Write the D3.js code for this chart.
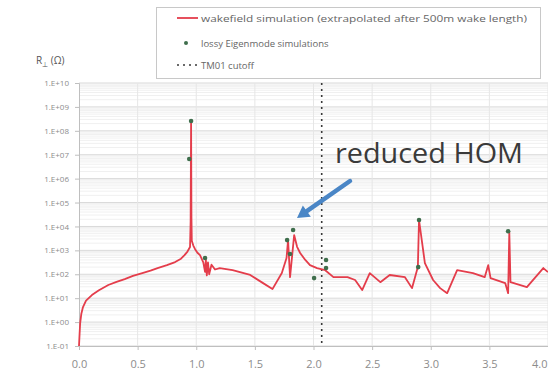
<!DOCTYPE html>
<html><head><meta charset="utf-8">
<script src="https://cdn.jsdelivr.net/npm/d3@7"></script>
<style>
body{margin:0;background:#fff;}
svg{display:block;font-family:"Open Sans","Liberation Sans",sans-serif;}
</style></head>
<body><svg id="c" width="548" height="378"></svg>
<script>
// frequency (GHz) of the wakefield curve
const wakeFreq = [0.0,0.005,0.01,0.02,0.034,0.06,0.11,0.17,0.25,0.32,0.39,0.46,0.54,0.61,0.67,0.75,0.82,0.87,0.90,0.925,0.947,0.952,0.956,0.959,0.962,0.975,0.99,1.01,1.032,1.06,1.075,1.082,1.09,1.10,1.11,1.13,1.16,1.20,1.31,1.46,1.57,1.65,1.73,1.770,1.783,1.80,1.835,1.86,1.886,1.93,1.97,2.03,2.10,2.17,2.29,2.355,2.415,2.48,2.57,2.65,2.78,2.84,2.89,2.90,2.95,3.02,3.08,3.14,3.225,3.36,3.46,3.49,3.51,3.635,3.66,3.67,3.68,3.82,3.96,4.0];
// log10 of transverse impedance (Ohm)
const wakeLog10R = [-1.0,-0.5,-0.04,0.35,0.63,0.9,1.13,1.33,1.55,1.68,1.80,1.93,2.05,2.15,2.26,2.38,2.51,2.65,2.8,2.95,3.14,4.2,8.41,4.4,3.4,3.2,3.05,2.9,2.8,2.5,2.1,2.6,1.95,2.5,2.0,2.4,2.2,2.26,2.17,1.97,1.63,1.38,2.05,2.68,3.43,1.88,3.64,3.15,2.89,2.6,2.38,2.26,2.17,1.88,1.88,1.76,1.34,2.05,1.67,1.97,1.88,1.42,2.3,4.27,2.47,1.76,1.42,1.21,2.17,2.05,1.88,2.38,1.84,1.63,1.21,3.76,1.67,1.46,2.26,2.09];
// lossy eigenmode simulation points
const eigFreq = [0.956,0.94,1.075,1.775,1.80,1.826,2.005,2.107,2.107,2.893,2.90,3.66];
const eigLog10R = [8.41,6.82,2.68,3.43,2.85,3.85,1.84,2.6,2.26,2.3,4.27,3.8];
const tm01Cutoff = 2.07;
const xTicks = [0,0.5,1.0,1.5,2.0,2.5,3.0,3.5,4.0];
const yTickExps = [-1,0,1,2,3,4,5,6,7,8,9,10];
const yTickLabels = ["1.E-01","1.E+00","1.E+01","1.E+02","1.E+03","1.E+04","1.E+05","1.E+06","1.E+07","1.E+08","1.E+09","1.E+10"];
const legendLabels = ["wakefield simulation (extrapolated after 500m wake length)","lossy Eigenmode simulations","TM01 cutoff"];

const svg = d3.select("#c");
const L=79, R=548, T=83, B=346;
const x = d3.scaleLinear().domain([0,4]).range([L,R]);
const y = d3.scaleLog().domain([1e-1,1e10]).range([B,T]);

// minor gridlines
const g = svg.append("g");
yTickExps.slice(0,-1).forEach(e=>{
  for(let k=2;k<=9;k++){
    g.append("line").attr("x1",L).attr("x2",R).attr("y1",y(k*Math.pow(10,e))).attr("y2",y(k*Math.pow(10,e)))
     .attr("stroke","#f0f0f0").attr("stroke-width",1);
  }
});
// major gridlines
yTickExps.forEach(e=>{
  g.append("line").attr("x1",L).attr("x2",R).attr("y1",y(Math.pow(10,e))).attr("y2",y(Math.pow(10,e)))
   .attr("stroke","#d9d9d9").attr("stroke-width",1);
});
xTicks.slice(1).forEach(t=>{
  g.append("line").attr("x1",x(t)).attr("x2",x(t)).attr("y1",T).attr("y2",B)
   .attr("stroke","#e6e6e6").attr("stroke-width",1);
});

// axes
const yAxis = d3.axisLeft(y).tickValues(yTickExps.map(e=>Math.pow(10,e)))
  .tickFormat((d,i)=>yTickLabels[i]).tickSize(4).tickPadding(6);
const ya = svg.append("g").attr("transform",`translate(${L},0)`).call(yAxis);
ya.select(".domain").attr("stroke","#bfbfbf");
ya.selectAll(".tick line").attr("stroke","#bfbfbf");
ya.selectAll(".tick text").attr("fill","#8c8c8c").style("font-size","8px").style("font-family","Open Sans");

const xAxis = d3.axisBottom(x).tickValues(xTicks).tickFormat(d3.format(".1f")).tickSize(4).tickPadding(10);
const xa = svg.append("g").attr("transform",`translate(0,${B})`).call(xAxis);
xa.select(".domain").attr("stroke","#bfbfbf");
xa.selectAll(".tick line").attr("stroke","#bfbfbf");
xa.selectAll(".tick text").attr("fill","#8c8c8c").style("font-size","11px").style("font-family","Open Sans");
xa.selectAll(".tick text").filter(d=>d===4).attr("text-anchor","end").attr("dx",-1);

// y title
const yt = svg.append("text").attr("x",36).attr("y",64).attr("fill","#555").style("font-size","10px");
yt.append("tspan").text("R");
yt.append("tspan").attr("dy",3).style("font-size","7px").text("⊥");
yt.append("tspan").attr("dy",-3).text(" (Ω)");

// TM01 cutoff
svg.append("line").attr("x1",x(tm01Cutoff)).attr("x2",x(tm01Cutoff)).attr("y1",T).attr("y2",B)
  .attr("stroke","#3a3a3a").attr("stroke-width",1.6).attr("stroke-dasharray","2,4");

// wakefield line
const line = d3.line().x((d,i)=>x(wakeFreq[i])).y((d,i)=>y(Math.pow(10,wakeLog10R[i])));
svg.append("path").datum(wakeFreq).attr("d",line).attr("fill","none")
  .attr("stroke","#e43d4b").attr("stroke-width",1.8).attr("stroke-linejoin","round");

// eigenmode points
svg.selectAll("circle.eig").data(eigFreq).enter().append("circle").attr("class","eig")
  .attr("cx",d=>x(d)).attr("cy",(d,i)=>y(Math.pow(10,eigLog10R[i]))).attr("r",2.3)
  .attr("fill","#3f6e4c");

// legend
const lg = svg.append("g");
lg.append("rect").attr("x",156.5).attr("y",7.5).attr("width",384).attr("height",71)
  .attr("fill","#fff").attr("stroke","#c8c8c8");
lg.append("line").attr("x1",177).attr("x2",198).attr("y1",18).attr("y2",18).attr("stroke","#e43d4b").attr("stroke-width",1.8);
lg.append("circle").attr("cx",186).attr("cy",43).attr("r",2).attr("fill","#3f6e4c");
lg.append("line").attr("x1",177).attr("x2",198).attr("y1",65).attr("y2",65).attr("stroke","#3a3a3a").attr("stroke-width",1.6).attr("stroke-dasharray","2,4");
[18,43,65].forEach((yy,i)=>{
  lg.append("text").attr("x",201).attr("y",yy+3.5).attr("fill","#666").style("font-size","9.5px").text(legendLabels[i]);
});
lg.select("text").attr("textLength",326).attr("lengthAdjust","spacingAndGlyphs");

// annotation
svg.append("text").attr("x",335).attr("y",163).attr("fill","#3a3a3a").style("font-size","27px")
  .attr("textLength",188).attr("lengthAdjust","spacingAndGlyphs").text("reduced HOM");
const ax1=350, ay1=181, ax2=297, ay2=218;
const ang = Math.atan2(ay2-ay1, ax2-ax1);
const hl=12, hw=7;
const bx = ax2 - hl*Math.cos(ang), by = ay2 - hl*Math.sin(ang);
svg.append("line").attr("x1",ax1).attr("y1",ay1).attr("x2",bx).attr("y2",by)
  .attr("stroke","#4a86c6").attr("stroke-width",4.5).attr("stroke-linecap","round");
svg.append("path").attr("d",`M${ax2},${ay2} L${bx + hw*Math.sin(ang)},${by - hw*Math.cos(ang)} L${bx - hw*Math.sin(ang)},${by + hw*Math.cos(ang)} Z`)
  .attr("fill","#4a86c6");
</script></body></html>
